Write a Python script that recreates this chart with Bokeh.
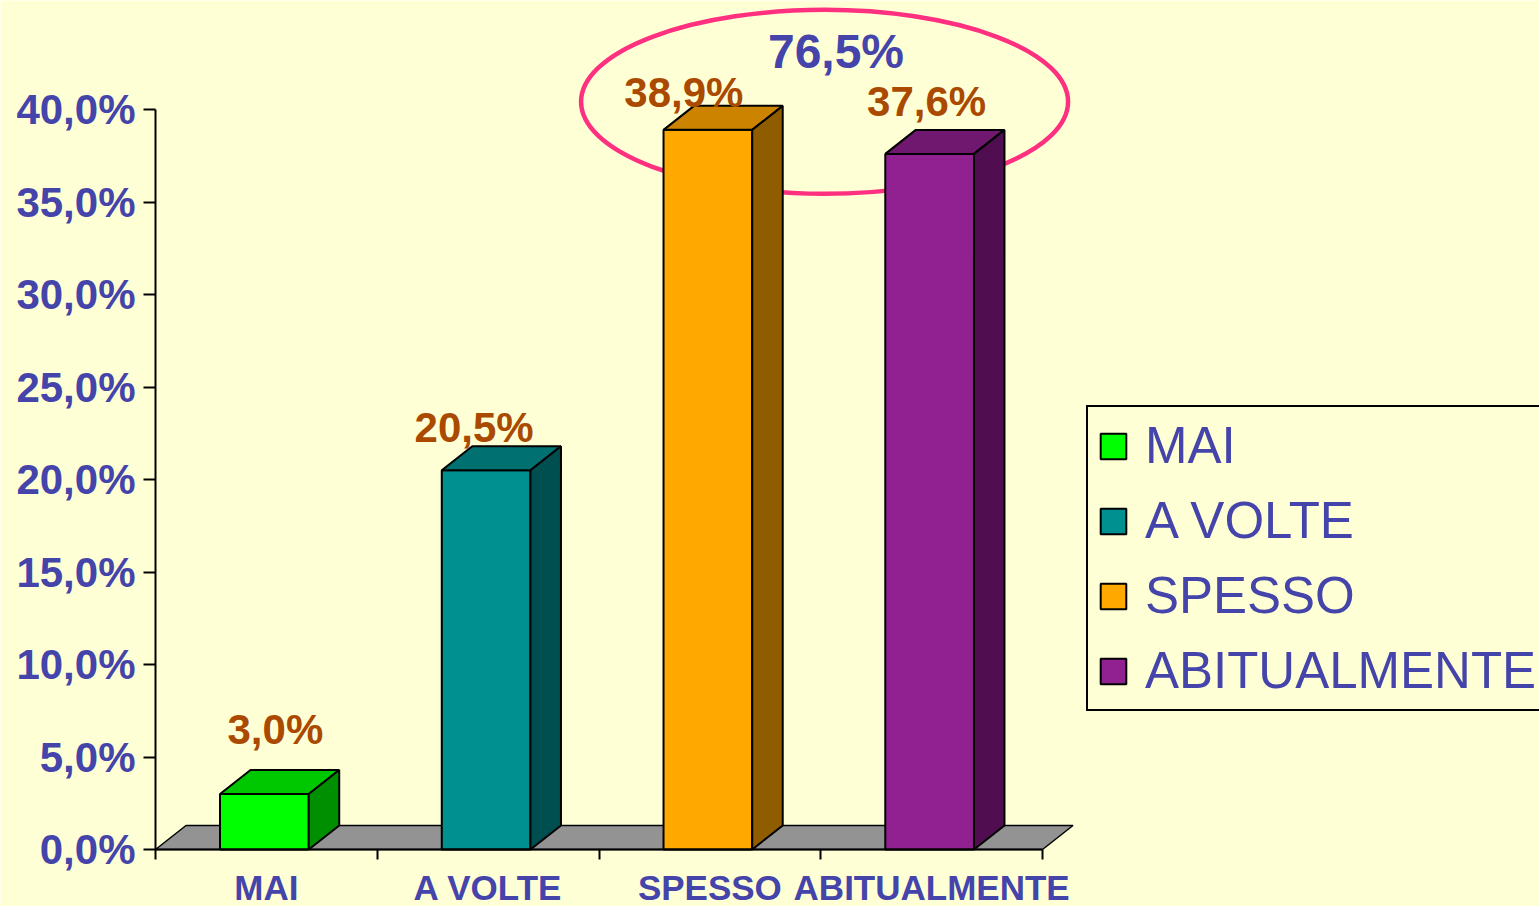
from bokeh.plotting import figure
from bokeh.models import FixedTicker, LinearAxis, Legend, LegendItem, Range1d, ColumnDataSource
from bokeh.core.properties import value
from bokeh.embed import file_html
from bokeh.resources import INLINE

# ---------------- data ----------------
categories = ["MAI", "A VOLTE", "SPESSO", "ABITUALMENTE"]
percent = [3.0, 20.5, 38.9, 37.6]
highlight = ["SPESSO", "ABITUALMENTE"]
y_ticks = [0, 5, 10, 15, 20, 25, 30, 35, 40]
y_tick_labels = ["0,0%", "5,0%", "10,0%", "15,0%", "20,0%", "25,0%", "30,0%", "35,0%", "40,0%"]

# ---------------- style ----------------
front_colors = ["#00FF00", "#009090", "#FFA800", "#912090"]
top_colors = ["#00C800", "#007070", "#CC8400", "#701870"]
side_colors = ["#008F00", "#004F50", "#8F5C00", "#500D50"]
label_dx_px = [9, -14, -26, -5]     # hand placement of the value labels
label_lift_px = [25, 3, -3, 12]
BG = "#FFFFD5"
BLUE = "#4444AA"
BROWN = "#AA4A00"
PINK = "#FF3080"
FONT = "Liberation Sans"

W, H = 1539, 906
X_PX = 221.75      # pixels per category
Y_PX = 18.5        # pixels per percent point
X0 = 155           # pixel of the first category boundary
Y0 = 849           # pixel (from top) of 0 %
DX = 30.5 / X_PX   # 3-D depth
DY = 24 / Y_PX
HALF = 0.2         # half bar width
SHIFT = -2 / X_PX  # bars sit slightly left of the category centre
BASE_FIX = 16      # text baseline correction (px)

p = figure(width=W, height=H,
           x_range=Range1d(-0.5 - X0 / X_PX, -0.5 + (W - X0) / X_PX),
           y_range=Range1d(-(H - Y0) / Y_PX, Y0 / Y_PX),
           output_backend="svg", toolbar_location=None, min_border=0,
           background_fill_color=BG, border_fill_color=BG, outline_line_color=None)
p.grid.visible = False

idx = list(range(len(categories)))
n = len(categories)
cx = [i + SHIFT for i in idx]

# highlight ellipse (behind bars)
hi = [categories.index(c) for c in highlight]
p.ellipse(x=[sum(hi) / len(hi) + DX / 8], y=[max(percent[i] for i in hi) + DY + 4 / Y_PX],
          width=487, height=184, width_units="screen", height_units="screen",
          fill_color=None, line_color=PINK, line_width=4.5)

# floor
p.patch(x=[-0.5, n - 0.5, n - 0.5 + DX, -0.5 + DX], y=[0, 0, DY, DY],
        fill_color="#939393", line_color="black", line_width=1.5)

# bars
src = ColumnDataSource(dict(
    left=[c - HALF for c in cx], right=[c + HALF for c in cx],
    top=percent, bottom=[0] * n, color=front_colors, label=categories))
front = p.quad(left="left", right="right", top="top", bottom="bottom", source=src,
               fill_color="color", line_color="black", line_width=2)
p.patches(xs=[[c - HALF, c + HALF, c + HALF + DX, c - HALF + DX] for c in cx],
          ys=[[v, v, v + DY, v + DY] for v in percent],
          fill_color=top_colors, line_color="black", line_width=2)
p.patches(xs=[[c + HALF, c + HALF + DX, c + HALF + DX, c + HALF] for c in cx],
          ys=[[0, DY, v + DY, v] for v in percent],
          fill_color=side_colors, line_color="black", line_width=2)

# value labels
p.text(x=idx, y=[v + DY for v in percent],
       text=[f"{v:.1f}".replace(".", ",") + "%" for v in percent],
       x_offset=label_dx_px, y_offset=[-(l + BASE_FIX) for l in label_lift_px],
       text_align="center", text_baseline="alphabetic",
       text_font=value(FONT), text_font_style="bold", text_font_size="42px",
       text_color=BROWN)

total = round(sum(percent[i] for i in hi), 1)
p.text(x=[sum(hi) / len(hi) + DX / 2], y=[max(percent[i] for i in hi) + DY],
       text=[f"{total:.1f}".replace(".", ",") + "%"],
       text_align="center", text_baseline="alphabetic", y_offset=-(38 + BASE_FIX),
       text_font=value(FONT), text_font_style="bold", text_font_size="48px",
       text_color=BLUE)

# y axis
ya = p.yaxis[0]
ya.ticker = FixedTicker(ticks=y_ticks)
ya.major_label_overrides = dict(zip(y_ticks, y_tick_labels))
ya.bounds = (y_ticks[0], y_ticks[-1])
ya.fixed_location = -0.5
ya.axis_line_width = 2
ya.major_tick_line_width = 2
ya.major_tick_out = 12
ya.major_tick_in = 0
ya.minor_tick_line_color = None
ya.major_label_standoff = 8
ya.major_label_text_font = FONT
ya.major_label_text_font_style = "bold"
ya.major_label_text_font_size = "42px"
ya.major_label_text_color = BLUE

# x axis: line + boundary ticks
xa = p.xaxis[0]
xa.ticker = FixedTicker(ticks=[i - 0.5 for i in range(n + 1)])
xa.bounds = (-0.5, n - 0.5)
xa.fixed_location = 0
xa.axis_line_width = 2
xa.major_tick_line_width = 2
xa.major_tick_out = 10
xa.major_tick_in = 0
xa.minor_tick_line_color = None
xa.major_label_text_color = None

# x axis: category labels
xl = LinearAxis(ticker=FixedTicker(ticks=idx),
                major_label_overrides=dict(zip(idx, categories)),
                axis_line_color=None, major_tick_line_color=None,
                minor_tick_line_color=None, fixed_location=0,
                major_label_standoff=12, major_label_text_font=FONT,
                major_label_text_font_style="bold", major_label_text_font_size="35px",
                major_label_text_color=BLUE)
p.add_layout(xl, "below")

# legend
legend = Legend(items=[LegendItem(label=c, renderers=[front], index=i) for i, c in enumerate(categories)],
                location=(1086, 195),
                glyph_width=32, glyph_height=32, label_height=32, label_standoff=16,
                padding=9, spacing=16, margin=0,
                label_text_font=FONT, label_text_font_size="51px", label_text_color=BLUE,
                border_line_color="black", border_line_width=2, border_line_alpha=1,
                background_fill_color=BG, background_fill_alpha=1)
p.add_layout(legend)

open("out.html", "w").write(file_html(p, INLINE))
